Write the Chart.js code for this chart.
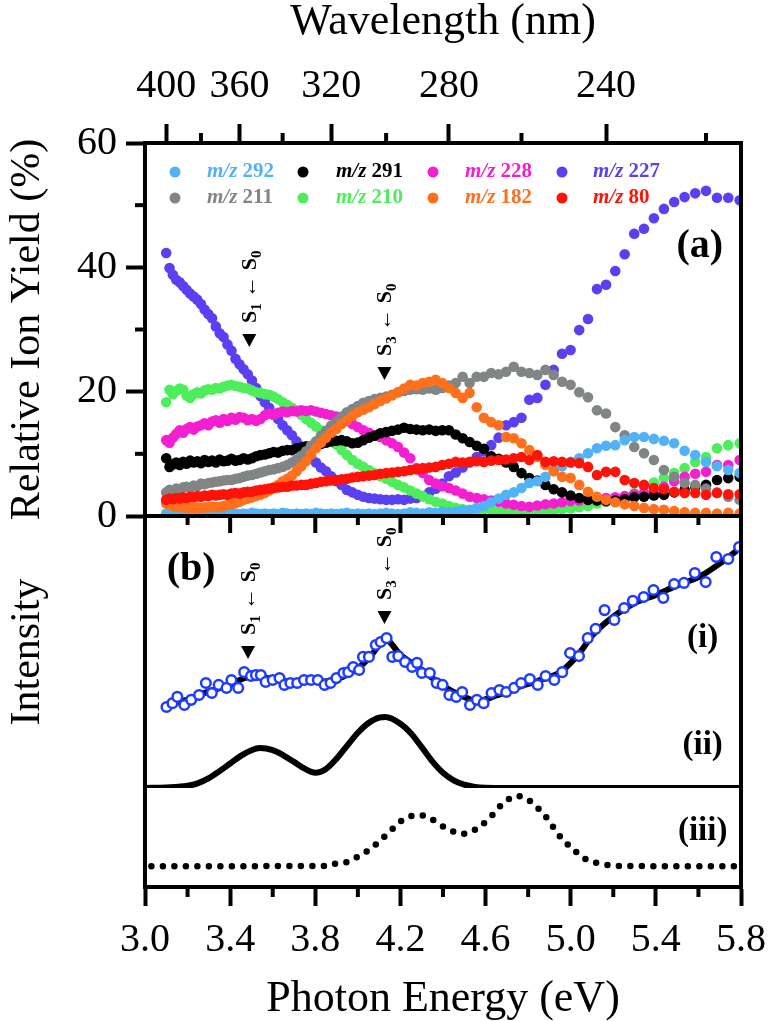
<!DOCTYPE html>
<html>
<head>
<meta charset="utf-8">
<title>Rendimento iônico relativo e espectro</title>
<script src="https://cdn.jsdelivr.net/npm/chart.js@4.4.0/dist/chart.umd.min.js"></script>
<style>
  html, body { margin: 0; padding: 0; background: #fff; }
  canvas { display: block; }
</style>
</head>
<body>
<canvas id="grafico" width="776" height="1021"></canvas>
<script>
const HC = 1239.84; // eV·nm

// Painel (a): grade de comprimentos de onda (nm)
const wavelengthNm = [400,398,396,394,392,390,388,386,384,382,
  380,378,376,374,372,370,368,366,364,362,
  360,358,356,354,352,350,348,346,344,342,
  340,338,336,334,332,330,328,326,324,322,
  320,318,316,314,312,310,308,306,304,302,
  300,298,296,294,292,290,288,286,284,282,
  280,278,276,274,272,270,268,266,264,262,
  260,258,256,254,252,250,248,246,244,242,
  240,238,236,234,232,230,228,226,224,222,
  220,218,216,214];

// rendimento iônico relativo (%) de cada fragmento
const ion292 = [0.4,0.3,0.5,0.3,0.4,0.3,0.5,0.4,0.3,0.4,
  0.3,0.5,0.4,0.3,0.4,0.3,0.4,0.5,0.3,0.4,
  0.3,0.4,0.3,0.5,0.4,0.3,0.4,0.3,0.4,0.3,
  0.5,0.4,0.3,0.4,0.3,0.4,0.3,0.5,0.4,0.3,
  0.4,0.3,0.4,0.5,0.3,0.4,0.3,0.4,0.3,0.4,
  0.5,0.4,0.3,0.4,0.6,0.5,0.4,0.6,0.5,0.7,
  0.6,0.7,0.9,1.0,1.3,1.6,2.2,2.8,3.4,3.8,
  4.5,5.3,5.6,6.3,7.4,8.0,8.7,9.3,10.1,10.9,
  11.3,11.4,12.2,12.7,12.7,12.4,12.1,11.7,10.5,9.8,
  8.7,8.0,7.4,6.9];
const ion291 = [9.3,7.9,8.3,8.6,8.2,8.7,8.4,8.9,8.6,8.8,
  8.5,9.0,8.7,8.9,8.6,9.1,8.8,8.9,9.2,8.9,
  9.0,9.3,9.1,9.3,9.6,9.8,9.9,10.1,10.3,10.2,
  10.5,10.6,10.6,10.9,11.0,11.2,11.1,11.4,11.6,11.8,
  12.0,12.1,12.2,12.0,11.7,11.8,12.2,12.6,12.9,13.3,
  13.5,13.7,13.9,14.2,14.0,13.9,13.8,13.9,13.7,13.8,
  13.8,13.1,12.5,11.9,11.3,10.8,9.6,9.2,8.6,7.9,
  6.9,6.1,5.7,5.0,4.3,3.8,3.3,2.9,2.6,2.5,
  2.4,2.5,2.7,3.0,3.1,3.3,3.4,3.8,4.2,4.7,
  5.0,5.8,6.1,6.3];
const ion228 = [12.2,11.8,12.6,13.2,13.8,13.4,14.0,14.3,13.9,14.4,
  14.6,14.9,14.6,15.2,15.4,15.0,15.6,15.3,15.8,15.5,
  15.9,15.8,15.4,15.6,15.3,15.6,16.2,16.5,16.3,16.6,
  16.8,16.7,16.9,16.8,17.0,16.9,17.0,16.8,16.6,16.4,
  16.2,16.0,15.7,15.3,14.8,14.3,13.8,13.4,13.0,12.7,
  12.2,11.7,11.1,10.2,9.3,7.7,6.9,5.8,5.2,4.8,
  4.5,4.1,3.6,3.1,2.9,2.7,2.5,2.3,2.0,1.8,
  1.6,1.5,1.7,1.9,2.0,2.2,2.4,2.5,2.6,2.8,
  2.9,3.0,3.2,3.5,3.7,4.0,4.7,5.6,6.3,6.8,
  7.1,8.2,8.2,9.0];
const ion227 = [42.3,39.9,38.8,38.0,37.6,37.0,36.4,35.8,35.3,34.8,
  34.1,33.2,32.5,31.8,30.5,29.4,28.8,27.6,26.6,25.3,
  24.4,23.6,22.8,21.8,20.6,19.3,18.3,17.4,16.3,15.6,
  14.6,13.8,13.0,12.0,11.2,10.3,9.6,8.6,7.8,7.2,
  6.4,5.6,5.0,4.2,3.8,3.4,3.1,2.9,2.8,2.7,
  2.6,2.6,2.7,2.6,2.8,2.9,3.2,3.8,4.4,5.2,
  6.4,7.0,7.8,8.6,9.5,10.4,11.4,12.6,14.6,15.1,
  15.8,18.7,19.0,21.1,23.5,26.1,26.7,29.9,31.7,36.5,
  37.2,39.4,42.1,45.4,46.2,47.9,49.4,50.5,51.3,51.9,
  52.3,51.2,51.2,50.8];
const ion211 = [3.8,4.2,4.0,4.4,4.3,4.6,4.7,4.5,4.9,4.8,
  5.2,5.1,5.3,5.4,5.5,5.6,5.7,5.8,5.8,6.0,
  6.1,6.3,6.5,6.6,6.8,7.0,7.2,7.4,7.5,7.7,
  7.9,8.2,8.6,9.1,9.7,10.4,11.3,12.0,12.9,13.7,
  14.5,15.2,16.0,16.7,17.2,17.7,18.2,18.5,18.8,19.0,
  19.2,19.5,19.9,20.1,20.3,20.4,20.3,20.5,20.3,20.6,
  21.0,21.4,22.4,21.4,22.4,22.4,23.0,22.8,23.2,24.0,
  23.2,23.0,22.7,23.5,22.7,21.6,21.1,19.9,19.1,17.0,
  16.5,14.3,13.0,11.1,10.1,9.0,7.4,6.3,5.3,5.0,
  4.4,3.8,3.1,2.6];
const ion210 = [18.3,20.3,19.6,20.1,20.5,20.3,19.4,19.0,19.6,19.9,
  19.7,20.2,20.4,20.3,20.6,20.5,20.8,21.0,21.1,20.9,
  20.8,20.6,20.5,20.2,19.9,19.8,19.6,19.5,19.2,18.8,
  18.3,17.9,17.4,17.0,16.3,15.6,15.0,14.4,13.8,13.0,
  12.2,11.5,10.6,9.8,9.0,8.4,7.9,7.4,6.9,6.4,
  6.0,5.5,5.0,4.6,4.1,3.6,3.2,2.7,2.3,2.0,
  1.6,1.3,1.1,0.9,0.9,1.1,1.0,0.8,1.0,0.9,
  0.7,0.8,0.9,1.0,0.9,1.1,1.2,1.4,1.6,2.0,
  2.3,2.6,2.9,3.7,4.7,5.4,6.1,6.9,7.7,8.7,
  9.5,10.9,11.4,11.7];
const ion182 = [2.0,1.8,1.6,1.5,1.4,1.5,1.3,1.4,1.3,1.4,
  1.3,1.4,1.4,1.5,1.4,1.5,1.6,1.8,1.9,2.1,
  2.3,2.6,2.8,3.0,3.2,3.4,3.7,4.1,4.6,5.0,
  5.6,6.0,6.5,7.2,8.0,8.8,9.9,10.9,11.8,12.6,
  13.4,14.0,14.8,15.4,16.1,16.7,17.1,17.5,18.0,18.5,
  18.9,19.4,19.9,20.5,21.1,21.0,21.4,21.6,21.9,21.4,
  20.6,19.8,19.0,19.8,17.5,15.8,15.1,14.6,12.7,12.5,
  11.7,10.6,9.5,8.2,7.2,6.3,6.1,5.0,3.9,3.1,
  2.6,2.2,1.9,1.6,1.3,1.1,1.0,0.8,0.6,0.5,
  0.5,0.4,0.5,0.4];
const ion80 = [2.6,2.8,2.7,2.9,2.8,3.0,2.9,3.1,3.0,3.2,
  3.1,3.3,3.2,3.4,3.3,3.4,3.5,3.4,3.6,3.7,
  3.6,3.8,3.9,3.9,4.1,4.2,4.3,4.4,4.5,4.6,
  4.7,4.7,4.9,4.9,5.0,5.0,5.2,5.3,5.5,5.6,
  5.7,5.8,5.9,6.0,6.2,6.3,6.4,6.5,6.6,6.8,
  6.9,7.0,7.1,7.2,7.4,7.5,7.7,7.8,7.9,8.2,
  8.4,8.7,8.6,8.7,8.8,8.7,8.9,9.0,9.1,9.3,
  9.5,9.0,9.8,8.7,8.8,8.7,8.6,8.5,7.9,6.6,
  7.1,7.1,5.8,5.3,5.0,4.5,4.3,3.9,3.7,3.7,
  3.4,3.7,3.5,3.5];

// Painel (b): espectro medido (i) e sua curva suavizada
const spectrumEnergy = [3.101,3.129,3.152,3.185,3.217,3.254,3.286,3.314,3.346,3.383,3.406,3.438,3.466,3.498,
  3.521,3.544,3.567,3.600,3.632,3.655,3.683,3.715,3.747,3.780,
  3.812,3.844,3.872,3.899,3.932,3.955,3.978,4.006,4.024,4.052,
  4.084,4.107,4.135,4.162,4.190,4.222,4.255,4.278,4.301,4.338,
  4.370,4.398,4.430,4.462,4.490,4.527,4.559,4.591,4.628,4.665,
  4.697,4.734,4.767,4.808,4.845,4.882,4.923,4.960,4.997,5.039,
  5.080,5.117,5.159,5.205,5.251,5.292,5.343,5.389,5.435,5.486,
  5.532,5.583,5.634,5.684,5.740,5.791];
const spectrumSignal = [29.8,31.2,33.5,30.5,32.4,34.2,38.6,34.9,37.9,36.8,39.7,36.8,42.6,41.2,
  41.5,41.5,39.0,39.7,40.4,37.9,38.6,38.6,39.7,39.7,
  39.7,37.9,38.6,40.4,42.3,42.6,44.5,43.4,48.2,48.2,
  52.6,53.7,55.1,48.2,48.5,46.3,44.5,46.0,42.3,42.3,
  38.6,37.9,34.2,33.5,35.3,30.5,32.4,31.2,34.9,36.0,
  35.3,36.8,38.6,40.1,37.9,41.2,39.7,42.6,49.6,48.5,
  55.1,58.5,65.4,61.8,66.2,68.8,70.2,72.8,69.9,75.0,
  75.4,79.0,75.7,84.9,84.2,88.6];
const smoothEnergy = [3.10,3.20,3.30,3.40,3.47,3.52,3.60,3.70,3.80,3.90,
  4.00,4.06,4.13,4.20,4.30,4.40,4.50,4.56,4.65,4.75,
  4.85,4.95,5.00,5.05,5.10,5.20,5.30,5.40,5.50,5.60,
  5.70,5.80];
const smoothSignal = [30.5,32.5,35.5,38.0,40.5,41.0,40.0,39.0,39.0,40.0,
  44.0,48.5,54.5,49.0,43.5,37.5,33.5,32.0,34.0,37.0,
  39.5,42.5,46.0,50.5,56.0,63.0,68.0,71.0,74.5,77.5,
  82.5,88.5];

// (ii) curva calculada S1/S3
const calcEnergyII = [3.00,3.10,3.20,3.25,3.30,3.35,3.40,3.45,3.50,3.54,
  3.60,3.65,3.70,3.75,3.80,3.85,3.90,3.95,4.00,4.05,
  4.10,4.13,4.20,4.25,4.30,4.35,4.40,4.45,4.50,4.55,
  4.60,4.70,5.80];
const calcII = [0.0,0.2,0.8,1.8,3.6,6.2,9.0,11.8,13.9,14.7,
  13.9,12.0,9.6,7.1,5.6,7.0,10.8,15.6,20.3,23.9,
  25.9,26.1,23.6,20.0,15.0,9.8,5.6,2.8,1.2,0.4,
  0.1,0.0,0.0];

// (iii) curva calculada pontilhada
const calcEnergyIII = [3.03,3.85,3.876,3.932,3.978,4.029,4.070,4.112,4.149,4.190,
  4.236,4.282,4.338,4.388,4.434,4.480,4.531,4.582,4.624,4.656,
  4.697,4.744,4.794,4.840,4.877,4.905,4.937,4.974,5.016,5.053,
  5.103,5.154,5.205,5.80];
const calcIII = [0,0.3,2.2,3.2,7.3,13.3,19.4,27.5,34.6,43.6,
  49.7,51.7,48.7,41.6,36.6,32.5,34.6,41.6,49.7,57.8,
  65.9,70.9,67.9,59.8,51.7,43.6,33.5,24.5,16.4,9.4,
  4.3,2.2,0.2,0];

// eixos
const wavelengthMajorNm = [400, 360, 320, 280, 240];
const wavelengthMinorNm = [380, 340, 300, 260, 220];
const energyMinorTicks = [3.2, 3.6, 4.0, 4.4, 4.8, 5.2, 5.6];
const yieldMinorTicks = [10, 30, 50];

// ordem de desenho: o primeiro fica por cima
const ionSeries = [
  { mz: '80',  cor: '#ff1208', valores: ion80 },
  { mz: '182', cor: '#ff701c', valores: ion182 },
  { mz: '292', cor: '#52b2f6', valores: ion292 },
  { mz: '211', cor: '#818586', valores: ion211 },
  { mz: '291', cor: '#000000', valores: ion291 },
  { mz: '228', cor: '#f41fd0', valores: ion228 },
  { mz: '210', cor: '#4ded5c', valores: ion210 },
  { mz: '227', cor: '#5a40f0', valores: ion227 }
];
const legendRows = [['292', '291', '228', '227'], ['211', '210', '182', '80']];

const SERIF = "'Liberation Serif', 'Times New Roman', serif";
Chart.defaults.font.family = SERIF;
Chart.defaults.color = '#000';

const photonEnergy = wavelengthNm.map(nm => HC / nm);
const pontos = (xs, ys) => xs.map((e, i) => ({ x: e, y: ys[i] }));

const datasets = ionSeries.map(s => ({
  label: 'm/z ' + s.mz,
  data: pontos(photonEnergy, s.valores),
  yAxisID: 'ya',
  showLine: false,
  pointRadius: 5.3,
  pointBorderWidth: 0,
  pointBackgroundColor: s.cor,
  borderColor: s.cor
}));
datasets.push({
  label: '(i)', data: pontos(spectrumEnergy, spectrumSignal), yAxisID: 'yb',
  showLine: false, pointRadius: 4.8, pointBorderWidth: 2.5,
  pointBorderColor: '#1d3cff', pointBackgroundColor: '#fff'
});
datasets.push({
  label: '(i) suavizada', data: pontos(smoothEnergy, smoothSignal), yAxisID: 'yb',
  borderColor: '#000', borderWidth: 6, pointRadius: 0, cubicInterpolationMode: 'monotone'
});
datasets.push({
  label: '(ii)', data: pontos(calcEnergyII, calcII), yAxisID: 'yb',
  borderColor: '#000', borderWidth: 6, pointRadius: 0, cubicInterpolationMode: 'monotone'
});
datasets.push({
  label: '(iii)', data: pontos(calcEnergyIII, calcIII), yAxisID: 'yc',
  borderColor: '#000', borderWidth: 6.5, borderDash: [0, 11.5], borderCapStyle: 'round',
  pointRadius: 0, cubicInterpolationMode: 'monotone'
});

const marcas = { drawOnChartArea: false, drawTicks: true, tickLength: 19, tickWidth: 4, tickColor: '#000' };
const borda = { display: true, width: 4, color: '#000' };
const semMarcas = { drawOnChartArea: false, drawTicks: false };

// texto S_n <- S_0 girado, lido de baixo para cima
function transicao(ctx, x, y, upper) {
  ctx.save();
  ctx.translate(x, y);
  ctx.rotate(-Math.PI / 2);
  ctx.textAlign = 'left';
  ctx.textBaseline = 'alphabetic';
  const big = 'bold 22px ' + SERIF, small = 'bold 15px ' + SERIF;
  const partes = [['S', big, 0], [upper, small, 5], [' \u2190 ', big, 0], ['S', big, 0], ['0', small, 5]];
  let cx = 0;
  partes.forEach(([t, f, dy]) => {
    ctx.font = f;
    ctx.fillText(t, cx, 7 + dy);
    cx += ctx.measureText(t).width;
  });
  ctx.restore();
}

function triangulo(ctx, x, y) {
  ctx.beginPath();
  ctx.moveTo(x - 7, y - 6);
  ctx.lineTo(x + 7, y - 6);
  ctx.lineTo(x, y + 7);
  ctx.closePath();
  ctx.fill();
}

const acabamento = {
  id: 'acabamento',
  afterDatasetsDraw(chart) {
    const { ctx, chartArea: area } = chart;
    const { x, x2, ya, yb, yc } = chart.scales;
    ctx.save();
    ctx.strokeStyle = '#000';
    ctx.fillStyle = '#000';
    ctx.lineWidth = 4;
    const linha = (x0, y0, x1, y1) => { ctx.beginPath(); ctx.moveTo(x0, y0); ctx.lineTo(x1, y1); ctx.stroke(); };

    // moldura direita e separação (a)/(b)
    linha(area.right, area.top - 2, area.right, area.bottom + 2);
    linha(area.left - 2, ya.bottom, area.right + 2, ya.bottom);
    x.ticks.forEach(t => { const px = x.getPixelForValue(t.value); linha(px, ya.bottom, px, ya.bottom + 17); });
    energyMinorTicks.forEach(e => {
      const px = x.getPixelForValue(e);
      linha(px, ya.bottom, px, ya.bottom + 9);
      linha(px, area.bottom, px, area.bottom + 10);
    });
    wavelengthMinorNm.forEach(nm => { const px = x2.getPixelForValue(HC / nm); linha(px, area.top, px, area.top - 10); });
    yieldMinorTicks.forEach(v => { const py = ya.getPixelForValue(v); linha(area.left, py, area.left - 10, py); });

    // legenda
    legendRows.forEach((row, r) => {
      const ly = area.top + 29 + r * 26;
      row.forEach((mz, c) => {
        const s = ionSeries.find(k => k.mz === mz);
        const mx = area.left + [30, 158, 288, 417][c];
        const tx = area.left + [62, 191, 320, 448][c];
        ctx.fillStyle = s.cor;
        ctx.beginPath(); ctx.arc(mx, ly, 5.5, 0, Math.PI * 2); ctx.fill();
        ctx.textAlign = 'left'; ctx.textBaseline = 'middle';
        ctx.font = 'italic bold 21px ' + SERIF;
        ctx.fillText('m/z', tx, ly);
        const w = ctx.measureText('m/z ').width;
        ctx.font = 'bold 21px ' + SERIF;
        ctx.fillText(mz, tx + w, ly);
      });
    });

    // rótulos dos painéis
    ctx.fillStyle = '#000';
    ctx.textAlign = 'center'; ctx.textBaseline = 'middle';
    ctx.font = 'bold 40px ' + SERIF;
    ctx.fillText('(a)', x.getPixelForValue(5.606), ya.getPixelForValue(43.3));
    ctx.fillText('(b)', x.getPixelForValue(3.217), yb.getPixelForValue(80.1));
    ctx.font = 'bold 33px ' + SERIF;
    ctx.fillText('(i)', x.getPixelForValue(5.62), yb.getPixelForValue(55.1));
    ctx.fillText('(ii)', x.getPixelForValue(5.62), yb.getPixelForValue(15.8));
    ctx.fillText('(iii)', x.getPixelForValue(5.62), yc.getPixelForValue(34.6));

    // marcadores das transições
    [[ya, 3.49, 28.3, '1'], [ya, 4.125, 23.0, '3'], [yb, 3.484, 50.0, '1'], [yb, 4.125, 62.9, '3']]
      .forEach(([esc, e, v, n]) => {
        const px = x.getPixelForValue(e), py = esc.getPixelForValue(v);
        triangulo(ctx, px, py);
        transicao(ctx, px, py - 17, n);
      });
    ctx.restore();
  }
};

new Chart(document.getElementById('grafico'), {
  type: 'line',
  data: { datasets },
  options: {
    responsive: false,
    animation: false,
    layout: { padding: { left: 0, right: 24, top: 0, bottom: 0 } },
    plugins: { legend: { display: false }, tooltip: { enabled: false } },
    scales: {
      x: {
        type: 'linear', position: 'bottom', min: 3, max: 5.8,
        afterFit: s => { s.height = 134; },
        ticks: { stepSize: 0.4, autoSkip: false, maxRotation: 0, padding: 10, font: { size: 40 }, callback: v => v.toFixed(1) },
        grid: marcas, border: borda,
        title: { display: true, text: 'Photon Energy (eV)', font: { size: 44, lineHeight: 1 }, padding: 0 }
      },
      x2: {
        type: 'linear', position: 'top', min: 3, max: 5.8,
        afterFit: s => { s.height = 143; },
        afterBuildTicks: s => { s.ticks = wavelengthMajorNm.map(nm => ({ value: HC / nm })); },
        ticks: { autoSkip: false, maxRotation: 0, padding: 14, font: { size: 40 }, callback: v => String(Math.round(HC / v)) },
        grid: marcas, border: borda,
        title: { display: true, text: 'Wavelength (nm)', font: { size: 44, lineHeight: 1 }, padding: 0 }
      },
      yc: {
        type: 'linear', position: 'left', stack: 'paineis', stackWeight: 99, min: -21, max: 79,
        afterFit: s => { s.width = 145; },
        ticks: { display: false }, grid: semMarcas, border: borda
      },
      yb: {
        type: 'linear', position: 'left', stack: 'paineis', stackWeight: 272, min: 0, max: 100,
        afterFit: s => { s.width = 145; },
        ticks: { display: false }, grid: semMarcas, border: borda,
        title: { display: true, text: 'Intensity', font: { size: 42, lineHeight: 1 }, padding: { top: 7, bottom: 0 } }
      },
      ya: {
        type: 'linear', position: 'left', stack: 'paineis', stackWeight: 373, min: 0, max: 60,
        afterFit: s => { s.width = 145; },
        ticks: { stepSize: 20, padding: 9, font: { size: 40 } },
        grid: marcas, border: borda,
        title: { display: true, text: 'Relative Ion Yield (%)', font: { size: 42, lineHeight: 1 }, padding: { top: 7, bottom: 0 } }
      }
    }
  },
  plugins: [acabamento]
});
</script>
</body>
</html>
